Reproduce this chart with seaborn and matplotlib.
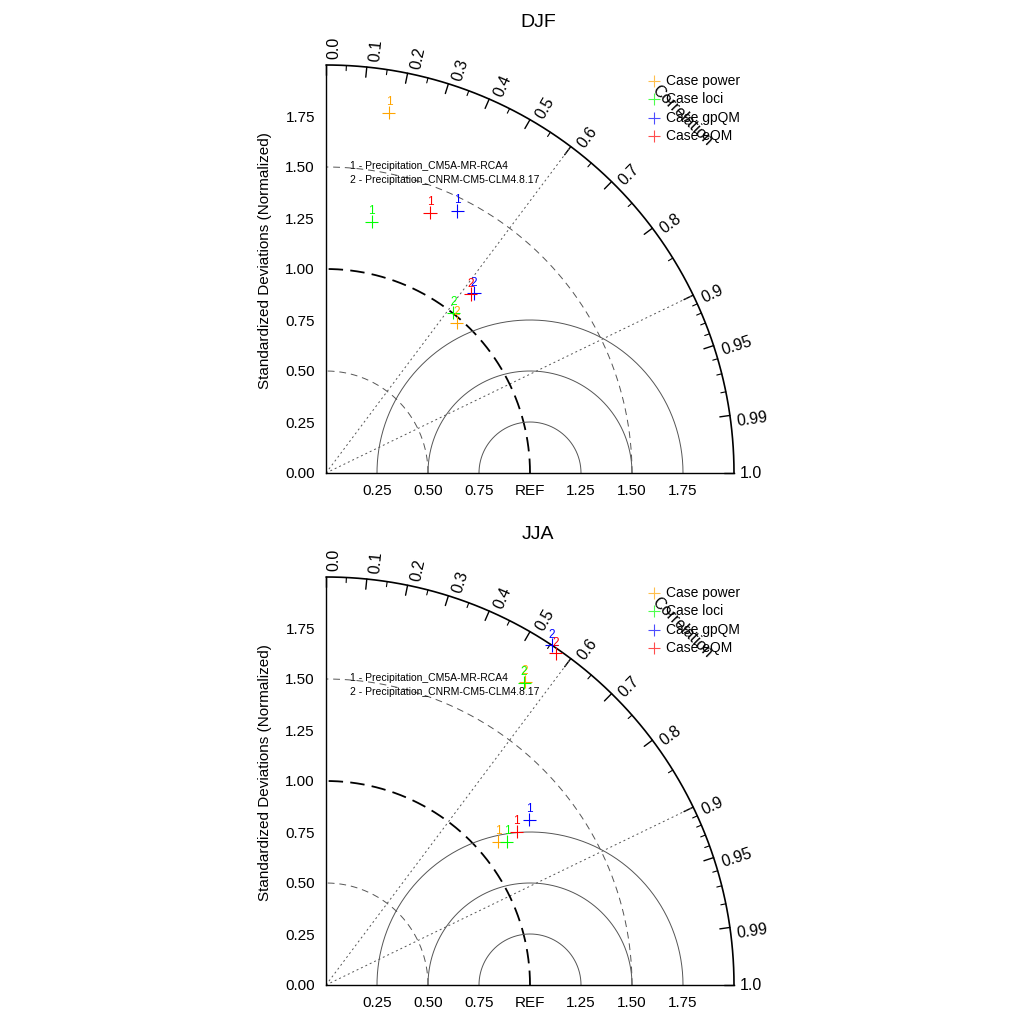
import numpy as np
import pandas as pd
import seaborn as sns
import matplotlib.pyplot as plt

# Taylor diagrams, precipitation, two seasons
seasons = ['DJF', 'JJA']
cases = ['Case power', 'Case loci', 'Case gpQM', 'Case eQM']
case_colors = ['#FFA500', '#00FF00', '#0000FF', '#FF0000']
models = ['Precipitation_CM5A-MR-RCA4', 'Precipitation_CNRM-CM5-CLM4.8.17']

# normalized standard deviation and correlation, per case -> [model 1, model 2]
djf_std = [[1.792, 0.977], [1.252, 1.003], [1.437, 1.142], [1.373, 1.128]]
djf_cor = [[0.172, 0.656], [0.179, 0.622], [0.448, 0.635], [0.371, 0.628]]
jja_std = [[1.099, 1.778], [1.131, 1.772], [1.284, 2.000], [1.200, 1.978]]
jja_cor = [[0.769, 0.549], [0.784, 0.548], [0.776, 0.553], [0.779, 0.569]]

std_ticks = [0.0, 0.25, 0.5, 0.75, 1.0, 1.25, 1.5, 1.75]
y_ticklabels = ['0.00', '0.25', '0.50', '0.75', '1.00', '1.25', '1.50', '1.75']
x_ticks = [0.25, 0.5, 0.75, 1.0, 1.25, 1.5, 1.75]
x_ticklabels = ['0.25', '0.50', '0.75', 'REF', '1.25', '1.50', '1.75']

cor_major = [0.0, 0.1, 0.2, 0.3, 0.4, 0.5, 0.6, 0.7, 0.8, 0.9, 0.95, 0.99, 1.0]
cor_major_lab = ['0.0', '0.1', '0.2', '0.3', '0.4', '0.5', '0.6', '0.7', '0.8',
                 '0.9', '0.95', '0.99', '1.0']
cor_minor = [0.05, 0.15, 0.25, 0.35, 0.45, 0.55, 0.65, 0.75, 0.85,
             0.91, 0.92, 0.93, 0.94, 0.96, 0.97, 0.98]
cor_rays = [0.6, 0.9]
std_arcs = [0.5, 1.0, 1.5]
rms_circles = [0.25, 0.5, 0.75]
RMAX = 2.0

sns.set_style('white', rc={'text.color': 'black', 'axes.labelcolor': 'black',
                           'xtick.color': 'black', 'ytick.color': 'black'})
plt.rcParams['font.family'] = ['Liberation Sans', 'DejaVu Sans']
plt.rcParams['text.color'] = 'black'


def taylor(ax, title, std, cor):
    t = np.linspace(0, np.pi / 2, 300)
    # outer correlation arc
    ax.plot(RMAX * np.cos(t), RMAX * np.sin(t), color='black', lw=1.2, clip_on=False)
    for c, lab in zip(cor_major, cor_major_lab):
        a = np.arccos(c)
        ax.plot([0.975 * RMAX * np.cos(a), RMAX * np.cos(a)],
                [0.975 * RMAX * np.sin(a), RMAX * np.sin(a)], color='black', lw=1, clip_on=False)
        va = 'center' if c == 1.0 else 'top'
        ax.text(1.015 * RMAX * np.cos(a), 1.015 * RMAX * np.sin(a), lab,
                rotation=np.degrees(a), rotation_mode='anchor', ha='left', va=va,
                fontsize=11.5, color='black')
    for c in cor_minor:
        a = np.arccos(c)
        ax.plot([0.9875 * RMAX * np.cos(a), RMAX * np.cos(a)],
                [0.9875 * RMAX * np.sin(a), RMAX * np.sin(a)], color='black', lw=0.8, clip_on=False)
    # correlation rays
    for c in cor_rays:
        ax.plot([0, RMAX * c], [0, RMAX * np.sqrt(1 - c ** 2)], color='#555555',
                lw=0.7, dashes=(2, 3))
    # std dev arcs
    for r in std_arcs:
        if r == 1.0:
            ax.plot(r * np.cos(t), r * np.sin(t), color='black', lw=1.3, dashes=(8, 4))
        else:
            ax.plot(r * np.cos(t), r * np.sin(t), color='#555555', lw=0.7, dashes=(7, 5))
    # centered RMS circles around REF
    tt = np.linspace(0, np.pi, 300)
    for r in rms_circles:
        ax.plot(1 + r * np.cos(tt), r * np.sin(tt), color='#555555', lw=0.7)

    rows = []
    for i, case in enumerate(cases):
        for m in range(2):
            s, c = std[i][m], cor[i][m]
            rows.append({'x': s * c, 'y': s * np.sqrt(1 - c ** 2), 'case': case, 'model': m + 1})
    df = pd.DataFrame(rows)
    sns.scatterplot(data=df, x='x', y='y', hue='case', hue_order=cases, palette=case_colors,
                    marker='+', s=90, linewidth=0.8, edgecolor='face', legend=False, ax=ax,
                    clip_on=False, zorder=5)
    for _, row in df.iterrows():
        ax.annotate(str(row['model']), (row['x'], row['y']), xytext=(0, 7.5),
                    textcoords='offset points', ha='center', va='center', fontsize=8.5,
                    color=case_colors[cases.index(row['case'])], zorder=6)

    # legend
    for i, case in enumerate(cases):
        ly = 1.922 - i * 0.09
        ax.plot([1.608], [ly], marker='+', ms=9, mew=0.8, alpha=0.7, color=case_colors[i],
                clip_on=False)
        ax.text(1.667, ly, case, fontsize=10, ha='left', va='center', color='black')
    ax.text(1.748, 1.75, 'Correlation', rotation=-45, fontsize=11.5, ha='center', va='center',
            color='black')

    # model list
    for m, name in enumerate(models):
        ax.text(0.118, 1.505 - m * 0.069, f'{m + 1} - {name}', fontsize=7.5, ha='left',
                va='center', color='black')

    ax.set_xlim(0, RMAX)
    ax.set_ylim(0, RMAX)
    ax.set_xticks(x_ticks)
    ax.set_xticklabels(x_ticklabels)
    ax.set_yticks(std_ticks)
    ax.set_yticklabels(y_ticklabels)
    ax.tick_params(direction='in', length=7, width=0.8, labelsize=11, pad=8,
                   color='black', labelcolor='black')
    ax.set_xlabel('')
    ax.set_ylabel('')
    ax.text(-0.30, 1.04, 'Standardized Deviations (Normalized)', rotation=90,
            ha='center', va='center', fontsize=11, color='black')
    ax.text(1.04, 2.21, title, ha='center', va='center', fontsize=14, color='black')
    for side in ['top', 'right']:
        ax.spines[side].set_visible(False)
    for side in ['left', 'bottom']:
        ax.spines[side].set_color('black')
        ax.spines[side].set_linewidth(1)


fig = plt.figure(figsize=(10.24, 10.24), dpi=100)
ax1 = fig.add_axes([326 / 1024, 1 - 473 / 1024, 408 / 1024, 408 / 1024])
ax2 = fig.add_axes([326 / 1024, 1 - 985 / 1024, 408 / 1024, 408 / 1024])
taylor(ax1, seasons[0], djf_std, djf_cor)
taylor(ax2, seasons[1], jja_std, jja_cor)
fig.savefig('out.png', dpi=100)
